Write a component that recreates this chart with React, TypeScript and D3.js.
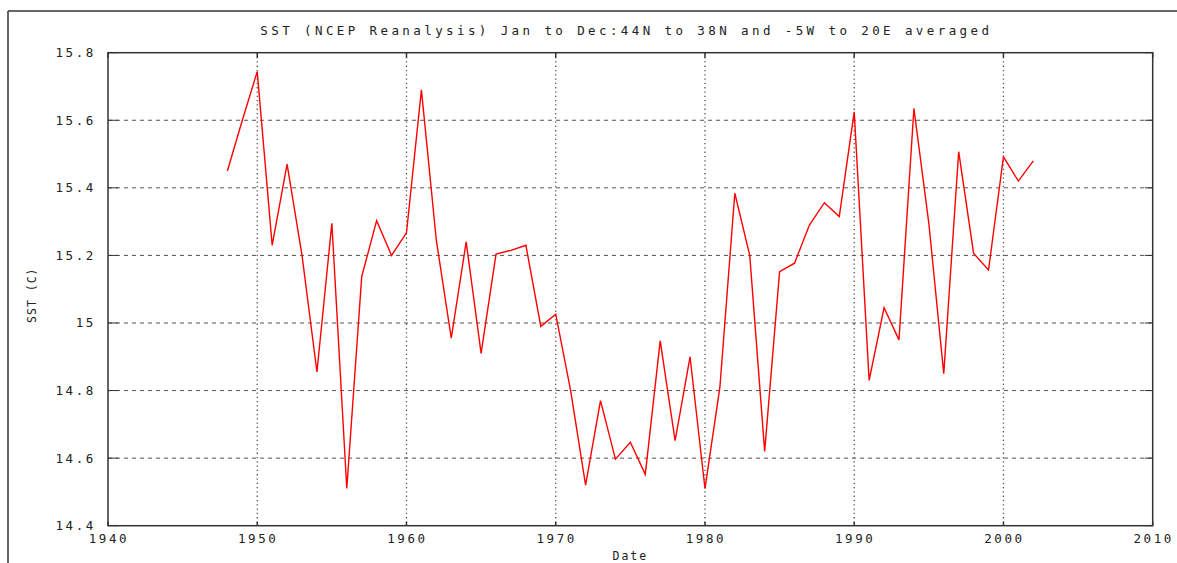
import React from "react";
import * as d3 from "d3";

const years: number[] = [
  1948, 1949, 1950, 1951, 1952, 1953, 1954, 1955, 1956, 1957, 1958, 1959, 1960, 1961, 1962, 1963, 1964, 1965,
  1966, 1967, 1968, 1969, 1970, 1971, 1972, 1973, 1974, 1975, 1976, 1977, 1978, 1979, 1980, 1981, 1982, 1983,
  1984, 1985, 1986, 1987, 1988, 1989, 1990, 1991, 1992, 1993, 1994, 1995, 1996, 1997, 1998, 1999, 2000, 2001, 2002,
];
const sst: number[] = [
  15.45, 15.6, 15.744, 15.23, 15.47, 15.2, 14.855, 15.295, 14.51, 15.137, 15.303, 15.2, 15.267, 15.69, 15.245, 14.955, 15.24, 14.91,
  15.204, 15.215, 15.23, 14.99, 15.026, 14.8, 14.52, 14.77, 14.597, 14.647, 14.552, 14.947, 14.652, 14.9, 14.51, 14.81, 15.384, 15.2,
  14.62, 15.152, 15.177, 15.29, 15.356, 15.315, 15.625, 14.83, 15.045, 14.95, 15.635, 15.295, 14.85, 15.507, 15.206, 15.157, 15.492, 15.42, 15.48,
];
const xTicks: number[] = [1940, 1950, 1960, 1970, 1980, 1990, 2000, 2010];
const yTicks: number[] = [14.4, 14.6, 14.8, 15, 15.2, 15.4, 15.6, 15.8];
const title = "SST (NCEP Reanalysis) Jan to Dec:44N to 38N and -5W to 20E averaged";
const xLabel = "Date";
const yLabel = "SST (C)";

const W = 1177;
const H = 563;
const L = 108, R = 1152.7, T = 52.7, B = 525.7;
const FONT = "'DejaVu Sans Mono', 'Liberation Mono', monospace";

export default function App() {
  const x = d3.scaleLinear().domain([1940, 2010]).range([L, R]);
  const y = d3.scaleLinear().domain([14.4, 15.8]).range([B, T]);
  const line = d3
    .line<number>()
    .x((_, i) => x(years[i]))
    .y((d) => y(d));
  const axisColor = "#333";
  const gridColor = "#555";
  return (
    <svg width={W} height={H} style={{ position: "absolute", left: 0, top: 0, background: "#fff" }}>
      <rect x={0} y={0} width={W} height={H} fill="#fff" />
      {/* outer frame */}
      <line x1={8} y1={11} x2={W} y2={11} stroke={axisColor} strokeWidth={1.5} />
      <line x1={8} y1={11} x2={8} y2={H} stroke={axisColor} strokeWidth={1.5} />
      {/* title */}
      <text x={(L + R) / 2 - 4} y={35} textAnchor="middle" fontFamily={FONT} fontSize={12.5} letterSpacing={3.4} fill="#222">
        {title}
      </text>
      {/* grid */}
      {yTicks.filter((t) => t > 14.4 && t < 15.8).map((t) => (
        <line key={"gy" + t} x1={L} x2={R} y1={y(t)} y2={y(t)} stroke={gridColor} strokeWidth={1} strokeDasharray="4,4" />
      ))}
      {xTicks.filter((t) => t > 1940 && t < 2010).map((t) => (
        <line key={"gx" + t} x1={x(t)} x2={x(t)} y1={T} y2={B} stroke={gridColor} strokeWidth={1.3} strokeDasharray="1.3,3" />
      ))}
      {/* ticks */}
      {yTicks.map((t) => (
        <g key={"ty" + t}>
          <line x1={L} x2={L + 10} y1={y(t)} y2={y(t)} stroke={axisColor} strokeWidth={1} />
          <line x1={R - 8} x2={R} y1={y(t)} y2={y(t)} stroke={axisColor} strokeWidth={1} />
          <text x={96} y={y(t) + 4.5} textAnchor="end" fontFamily={FONT} fontSize={12.5} letterSpacing={2.6} fill="#222">
            {d3.format("~g")(t)}
          </text>
        </g>
      ))}
      {xTicks.map((t) => (
        <g key={"tx" + t}>
          <line x1={x(t)} x2={x(t)} y1={B} y2={B - 4} stroke={axisColor} strokeWidth={1.5} />
          <line x1={x(t)} x2={x(t)} y1={T} y2={T + 5} stroke={axisColor} strokeWidth={1.5} />
          <text x={x(t) + 1} y={543} textAnchor="middle" fontFamily={FONT} fontSize={12.5} letterSpacing={2.6} fill="#222">
            {t}
          </text>
        </g>
      ))}
      {/* axis box */}
      <rect x={L} y={T} width={R - L} height={B - T} fill="none" stroke={axisColor} strokeWidth={1.5} />
      {/* data */}
      <path d={line(sst) || ""} fill="none" stroke="#ff0000" strokeWidth={1.4} />
      {/* labels */}
      <text x={(L + R) / 2} y={560} textAnchor="middle" fontFamily={FONT} fontSize={11.5} letterSpacing={2} fill="#222">
        {xLabel}
      </text>
      <text
        transform={`translate(36, ${(T + B) / 2 + 6}) rotate(-90)`}
        textAnchor="middle"
        fontFamily={FONT}
        fontSize={11.5}
        letterSpacing={1}
        fill="#222"
      >
        {yLabel}
      </text>
    </svg>
  );
}
